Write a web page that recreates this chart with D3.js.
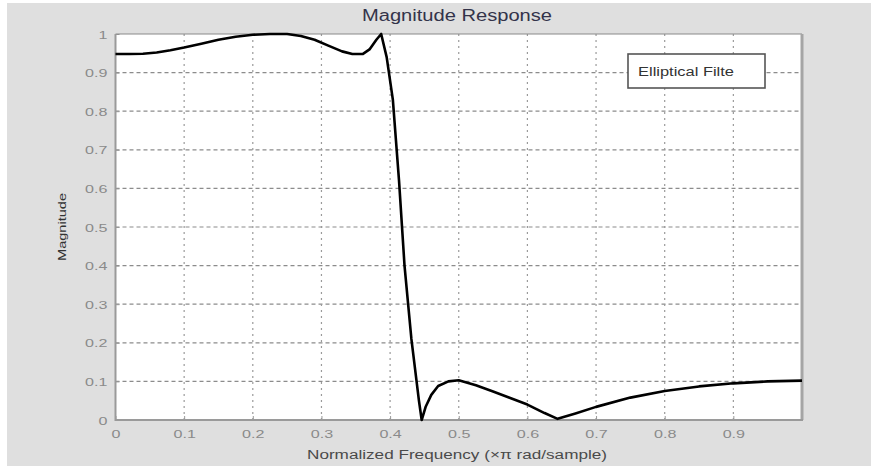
<!DOCTYPE html>
<html>
<head>
<meta charset="utf-8">
<script src="https://cdn.jsdelivr.net/npm/d3@7"></script>
<style>
  html, body { margin: 0; padding: 0; background: #ffffff; }
  svg { display: block; font-family: Arial, "Liberation Sans", sans-serif; }
</style>
</head>
<body>
<svg id="chart" width="871" height="467"></svg>
<script>
// Elliptic low-pass filter magnitude response
const freq = [0, 0.02, 0.04, 0.06, 0.08, 0.1, 0.125, 0.15, 0.175, 0.2, 0.225, 0.25, 0.27, 0.29, 0.31,
  0.33, 0.345, 0.36, 0.37, 0.38, 0.387, 0.395, 0.404, 0.413, 0.421, 0.431, 0.442, 0.446,
  0.452, 0.46, 0.47, 0.485, 0.5, 0.525, 0.55, 0.575, 0.6, 0.625, 0.644, 0.67, 0.7, 0.75,
  0.8, 0.85, 0.9, 0.95, 1.0];
const magnitude = [0.948, 0.948, 0.949, 0.952, 0.958, 0.965, 0.975, 0.985, 0.993, 0.998, 1.0, 1.0, 0.995, 0.985, 0.97,
  0.955, 0.948, 0.948, 0.96, 0.985, 1.0, 0.94, 0.83, 0.62, 0.4, 0.21, 0.05, 0.0,
  0.035, 0.065, 0.088, 0.1, 0.103, 0.09, 0.074, 0.057, 0.04, 0.018, 0.003, 0.017, 0.034, 0.058,
  0.075, 0.087, 0.095, 0.1, 0.102];
const xTicks = [0, 0.1, 0.2, 0.3, 0.4, 0.5, 0.6, 0.7, 0.8, 0.9];
const yTicks = [0, 0.1, 0.2, 0.3, 0.4, 0.5, 0.6, 0.7, 0.8, 0.9, 1];
const titleText = "Magnitude Response";
const xLabel = "Normalized Frequency (\u00D7\u03C0 rad/sample)";
const yLabel = "Magnitude";
const legendLabel = "Elliptical Filte";

const svg = d3.select("#chart");
const plot = { left: 115.5, top: 34, right: 802, bottom: 420 };
const stretch = 1.4;

// Figure background
svg.append("rect").attr("x", 7).attr("y", 3).attr("width", 864).attr("height", 463).attr("fill", "#dfdfdf");

const x = d3.scaleLinear().domain([0, 1]).range([plot.left, plot.right]);
const y = d3.scaleLinear().domain([0, 1]).range([plot.bottom, plot.top]);

// Axes area
svg.append("rect")
  .attr("x", plot.left).attr("y", plot.top)
  .attr("width", plot.right - plot.left).attr("height", plot.bottom - plot.top)
  .attr("fill", "#ffffff");

// Grid
const grid = svg.append("g");
grid.selectAll("line.h").data(yTicks.filter(d => d > 0 && d < 1)).join("line")
  .attr("x1", plot.left).attr("x2", plot.right)
  .attr("y1", d => y(d)).attr("y2", d => y(d))
  .attr("stroke", "#8c8c8c").attr("stroke-width", 1.2).attr("stroke-dasharray", "4,3");
grid.selectAll("line.v").data(xTicks.filter(d => d > 0)).join("line")
  .attr("y1", plot.top).attr("y2", plot.bottom)
  .attr("x1", d => x(d)).attr("x2", d => x(d))
  .attr("stroke", "#9a9a9a").attr("stroke-width", 1.2).attr("stroke-dasharray", "2,4");

// Axes
const xAxis = svg.append("g").attr("transform", `translate(0,${plot.bottom})`)
  .call(d3.axisBottom(x).tickValues(xTicks).tickFormat(d3.format("")).tickSizeInner(-4).tickSizeOuter(0));
const yAxis = svg.append("g").attr("transform", `translate(${plot.left},0)`)
  .call(d3.axisLeft(y).tickValues(yTicks).tickFormat(d3.format("")).tickSizeInner(-4).tickSizeOuter(0));

[xAxis, yAxis].forEach(g => {
  g.select(".domain").remove();
  g.selectAll(".tick line").attr("stroke", "#999");
  g.selectAll(".tick text").attr("fill", "#8a8a8a").attr("font-size", 11.5)
    .attr("font-family", "Arial, 'Liberation Sans', sans-serif");
});
xAxis.selectAll(".tick text").attr("y", 0).attr("dy", 0)
  .attr("transform", `translate(0,18) scale(${stretch},1)`);
yAxis.selectAll(".tick text").attr("x", 0).attr("dy", "0.35em")
  .attr("transform", `translate(-8,0) scale(${stretch},1)`);

// Axes frame
svg.append("line").attr("x1", plot.left).attr("x2", plot.right).attr("y1", plot.top).attr("y2", plot.top)
  .attr("stroke", "#8a8a8a").attr("stroke-width", 1.2);
svg.append("line").attr("x1", plot.right).attr("x2", plot.right).attr("y1", plot.top).attr("y2", plot.bottom)
  .attr("stroke", "#a5a5a5").attr("stroke-width", 3);
svg.append("line").attr("x1", plot.left).attr("x2", plot.left).attr("y1", plot.top).attr("y2", plot.bottom + 1)
  .attr("stroke", "#9a9a9a").attr("stroke-width", 2);
svg.append("line").attr("x1", plot.left).attr("x2", plot.right + 1).attr("y1", plot.bottom).attr("y2", plot.bottom)
  .attr("stroke", "#9a9a9a").attr("stroke-width", 2);

// Response curve
const pts = freq.map((f, i) => [f, magnitude[i]]);
svg.append("path").datum(pts)
  .attr("fill", "none").attr("stroke", "#000").attr("stroke-width", 2.6).attr("stroke-linejoin", "round")
  .attr("d", d3.line().x(d => x(d[0])).y(d => y(d[1])).curve(d3.curveLinear));

// Legend
svg.append("rect").attr("x", 628).attr("y", 54).attr("width", 137).attr("height", 34)
  .attr("fill", "#ffffff").attr("stroke", "#555").attr("stroke-width", 1.6);
svg.append("text").attr("x", 638).attr("y", 76).attr("font-size", 12).attr("fill", "#333")
  .attr("textLength", 96).attr("lengthAdjust", "spacingAndGlyphs").text(legendLabel);

// Title and axis labels
svg.append("text").attr("x", 457).attr("y", 21).attr("text-anchor", "middle")
  .attr("font-size", 16).attr("fill", "#33334a")
  .attr("textLength", 190).attr("lengthAdjust", "spacingAndGlyphs").text(titleText);
svg.append("text").attr("x", 457).attr("y", 459).attr("text-anchor", "middle")
  .attr("font-size", 12.5).attr("fill", "#4a4a4a")
  .attr("textLength", 300).attr("lengthAdjust", "spacingAndGlyphs").text(xLabel);
svg.append("text").attr("transform", `translate(66,${(plot.top + plot.bottom) / 2}) rotate(-90)`)
  .attr("text-anchor", "middle").attr("font-size", 11).attr("fill", "#333")
  .attr("textLength", 68).attr("lengthAdjust", "spacingAndGlyphs").text(yLabel);
</script>
</body>
</html>
